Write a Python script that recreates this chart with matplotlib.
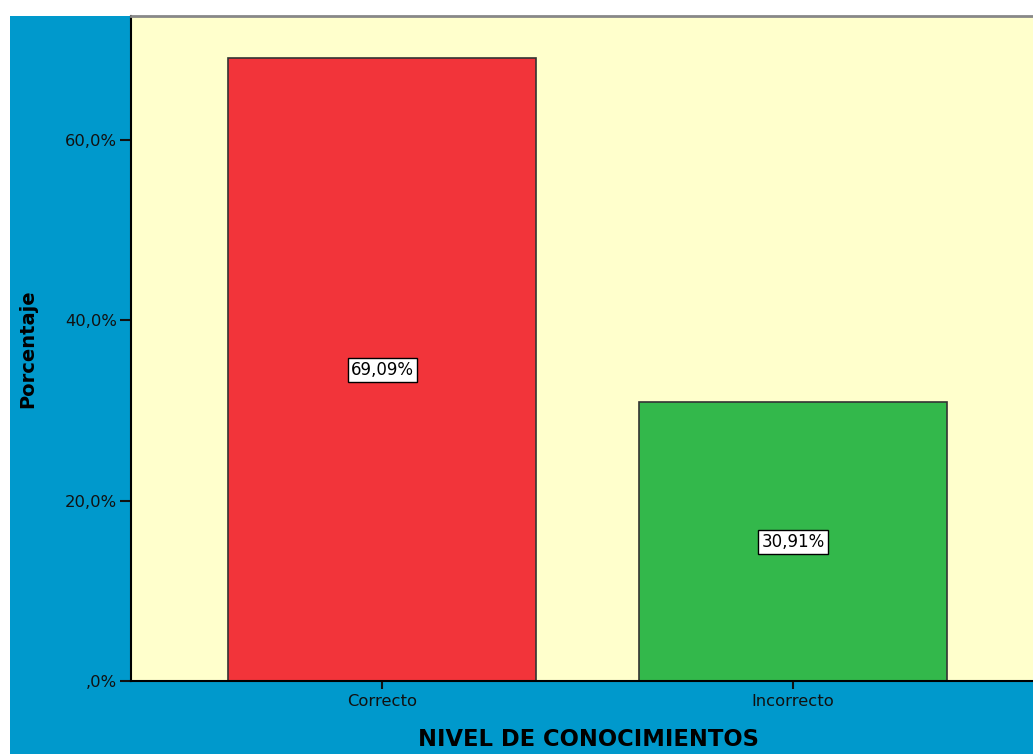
import matplotlib
matplotlib.use('Agg')
import matplotlib.pyplot as plt
from matplotlib.patches import Rectangle
from matplotlib.ticker import FuncFormatter

categories = ['Correcto', 'Incorrecto']
percentages = [69.09, 30.91]
bar_colors = ['#F2343A', '#33B84B']
yticks = [0, 20, 40, 60]


def pct_label(v, pos=None):
    # SPSS style: comma decimals, no leading zero
    s = '%.1f' % v
    if s.startswith('0'):
        s = s[1:]
    return s.replace('.', ',') + '%'


def main():
    plt.rcParams['font.family'] = ['DejaVu Sans']

    fig = plt.figure(figsize=(10.33, 7.54), dpi=100)
    fig.patch.set_facecolor('white')
    # blue chart background, leaving a thin white margin top and left
    fig.patches.append(Rectangle((10 / 1033, 0), 1, (754 - 16) / 754,
                                 transform=fig.transFigure, facecolor='#0099CC',
                                 edgecolor='none', zorder=-5))

    ax = fig.add_axes([131 / 1033, 73 / 754, (1033 - 131) / 1033, 665 / 754])
    ax.set_facecolor('#FFFFCC')

    x = list(range(len(categories)))
    ax.bar(x, percentages, width=0.749, color=bar_colors,
           edgecolor='#333333', linewidth=1.2, zorder=2)

    for xi, v in zip(x, percentages):
        ax.text(xi, v / 2, ('%.2f' % v).replace('.', ',') + '%',
                ha='center', va='center', fontsize=12, zorder=3,
                bbox=dict(boxstyle='square,pad=0.18', facecolor='white',
                          edgecolor='black', linewidth=1))

    ax.set_xlim(-0.611, 1.584)
    ax.set_ylim(0, 73.75)
    ax.set_yticks(yticks)
    ax.yaxis.set_major_formatter(FuncFormatter(pct_label))
    ax.set_xticks(x)
    ax.set_xticklabels(categories)

    ax.tick_params(axis='y', length=8, width=1.5, labelsize=11.8, pad=2,
                   colors='#111111')
    ax.tick_params(axis='x', length=6, width=1.5, labelsize=11.8, pad=3,
                   colors='#111111')

    ax.spines['left'].set_linewidth(1.5)
    ax.spines['bottom'].set_linewidth(1.5)
    ax.spines['top'].set_color('#888888')
    ax.spines['top'].set_linewidth(2)
    ax.spines['right'].set_visible(False)

    ax.set_ylabel('Porcentaje', fontsize=14, fontweight='bold')
    ax.yaxis.set_label_coords(-(131 - 37) / (1033 - 131), 0.5)
    ax.set_xlabel('NIVEL DE CONOCIMIENTOS', fontsize=16.3, fontweight='bold')
    ax.xaxis.set_label_coords((588 - 131) / (1033 - 131), -0.07)

    plt.savefig('out.png', dpi=100)
    plt.clf()


if __name__ == "__main__":
    main()
